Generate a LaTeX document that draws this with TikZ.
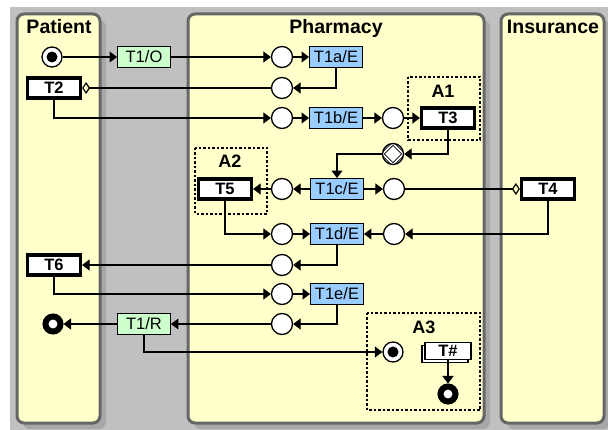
\documentclass[tikz,border=0pt]{standalone}
\usepackage{fontspec}
\setmainfont{Liberation Sans}
\usepackage{tikz}
\usetikzlibrary{arrows.meta,shadows}
\definecolor{bggray}{HTML}{C0C0C0}
\definecolor{shadegray}{HTML}{A8A8A8}
\definecolor{lanegray}{HTML}{666666}
\definecolor{lanefill}{HTML}{FFFFCC}
\definecolor{taskblue}{HTML}{99CCFF}
\definecolor{taskgreen}{HTML}{CCFFCC}

\begin{document}
\begin{tikzpicture}[x=1pt, y=-1pt,
  lane/.style={draw=lanegray, line width=3pt, fill=lanefill, rounded corners=7pt},
  laneshadow/.style={fill=shadegray, rounded corners=7pt},
  lanelabel/.style={anchor=base, font=\bfseries\fontsize{19.5}{20}\selectfont},
  area/.style={draw, line width=1.1pt, dash pattern=on 2.5pt off 2pt},
  arealabel/.style={anchor=base, font=\bfseries\fontsize{18}{18}\selectfont},
  place/.style={circle, draw, fill=white, line width=1.3pt, minimum size=21pt, inner sep=0pt},
  startplace/.style={place, minimum size=20pt, path picture={\fill[black] (path picture bounding box.center) circle (5.5pt);}},
  endplace/.style={circle, draw, fill=white, line width=6pt, minimum size=15pt, inner sep=0pt},
  decplace/.style={place, path picture={\draw[black, line width=0.9pt, double=white, double distance=1.6pt] (path picture bounding box.west) -- (path picture bounding box.north) -- (path picture bounding box.east) -- (path picture bounding box.south) -- cycle;}},
  trans/.style={draw, line width=3.2pt, fill=white, minimum width=53pt, minimum height=20pt, inner sep=1pt, font=\bfseries\fontsize{16.5}{16.5}\selectfont},
  ebox/.style={draw, line width=0.9pt, fill=taskblue, minimum width=53pt, minimum height=21pt, inner sep=1pt, font=\fontsize{16.5}{16.5}\selectfont},
  rbox/.style={ebox, fill=taskgreen},
  multibox/.style={draw, line width=1.3pt, fill=white, minimum width=46pt, minimum height=17pt, inner sep=1pt, font=\bfseries\fontsize{16.5}{16.5}\selectfont,
    copy shadow={shadow xshift=-3pt, shadow yshift=-3pt, draw=black, fill=white, line width=1.3pt}},
  arrow/.style={-{Triangle[length=7.5pt,width=11pt]}, line width=1.2pt},
  diam/.style={-{Diamond[open, length=8pt, width=12pt]}, line width=1.2pt}
]
\useasboundingbox (0,0) rectangle (608,430);
\fill[bggray] (10,7) rectangle (608,430);

% lanes
\fill[laneshadow] (23,20) rectangle (106,429);
\fill[laneshadow] (194,20) rectangle (490,429);
\fill[laneshadow] (507,20) rectangle (610,429);
\draw[lane] (17,14) rectangle (100,423);
\draw[lane] (188,14) rectangle (484,423);
\draw[lane] (501,14) rectangle (604,423);
\node[lanelabel] (patient) at (59,34) {Patient};
\node[lanelabel] (pharmacy) at (336,34) {Pharmacy};
\node[lanelabel] (insurance) at (553,34) {Insurance};

% areas
\draw[area] (408,77) rectangle (480,140);
\draw[area] (195,148) rectangle (267,214);
\draw[area] (367,313) rectangle (480,410);
\node[arealabel] (a1) at (443,98) {A1};
\node[arealabel] (a2) at (230,168) {A2};
\node[arealabel] (a3) at (424,334) {A3};

\node[startplace] (start) at (52,57) {};
\node[rbox] (t1o) at (144,57) {T1/O};
\node[place] (pa) at (282,57) {};
\node[ebox] (t1a) at (336,57) {T1a/E};

\node[trans] (t2) at (54,88) {T2};
\node[place] (pb) at (282,88) {};

\node[place] (pc) at (282,118) {};
\node[ebox] (t1b) at (336,118) {T1b/E};
\node[place] (pd) at (393,118) {};
\node[trans] (t3) at (448,118) {T3};

\node[decplace] (pdd) at (393,154) {};

\node[trans] (t5) at (225,189) {T5};
\node[place] (pe) at (282,189) {};
\node[ebox] (t1c) at (337,189) {T1c/E};
\node[place] (pf) at (394,189) {};
\node[trans] (t4) at (548,189) {T4};

\node[place] (pg) at (282,234) {};
\node[ebox] (t1d) at (337,234) {T1d/E};
\node[place] (ph) at (394,234) {};

\node[trans] (t6) at (54,265) {T6};
\node[place] (pi) at (282,265) {};

\node[place] (pj) at (282,294) {};
\node[ebox] (t1e) at (337,294) {T1e/E};

\node[endplace] (endp) at (53,324) {};
\node[rbox] (t1r) at (144,324) {T1/R};
\node[place] (pk) at (282,324) {};

\node[startplace] (pl) at (393,352) {};
\node[multibox] (tx) at (448,351) {T\#};
\node[endplace] (endq) at (448,394) {};

\draw[arrow] (start) -- (t1o);
\draw[arrow] (t1o) -- (pa);
\draw[arrow] (pa) -- (t1a);
\draw[arrow] (t1a) |- (pb);
\draw[diam] (pb) -- (t2);
\draw[arrow] (t2) |- (pc);
\draw[arrow] (pc) -- (t1b);
\draw[arrow] (t1b) -- (pd);
\draw[arrow] (pd) -- (t3);
\draw[arrow] (t3) |- (pdd);
\draw[arrow] (pdd) -| (t1c);
\draw[arrow] (t1c) -- (pe);
\draw[arrow] (pe) -- (t5);
\draw[arrow] (t1c) -- (pf);
\draw[diam] (pf) -- (t4);
\draw[arrow] (t5) |- (pg);
\draw[arrow] (pg) -- (t1d);
\draw[arrow] (ph) -- (t1d);
\draw[arrow] (t4) |- (ph);
\draw[arrow] (t1d) |- (pi);
\draw[arrow] (pi) -- (t6);
\draw[arrow] (t6) |- (pj);
\draw[arrow] (pj) -- (t1e);
\draw[arrow] (t1e) |- (pk);
\draw[arrow] (pk) -- (t1r);
\draw[arrow] (t1r) -- (endp);
\draw[arrow] (t1r) |- (pl);
\draw[arrow] (tx) -- (endq);
\end{tikzpicture}
\end{document}
